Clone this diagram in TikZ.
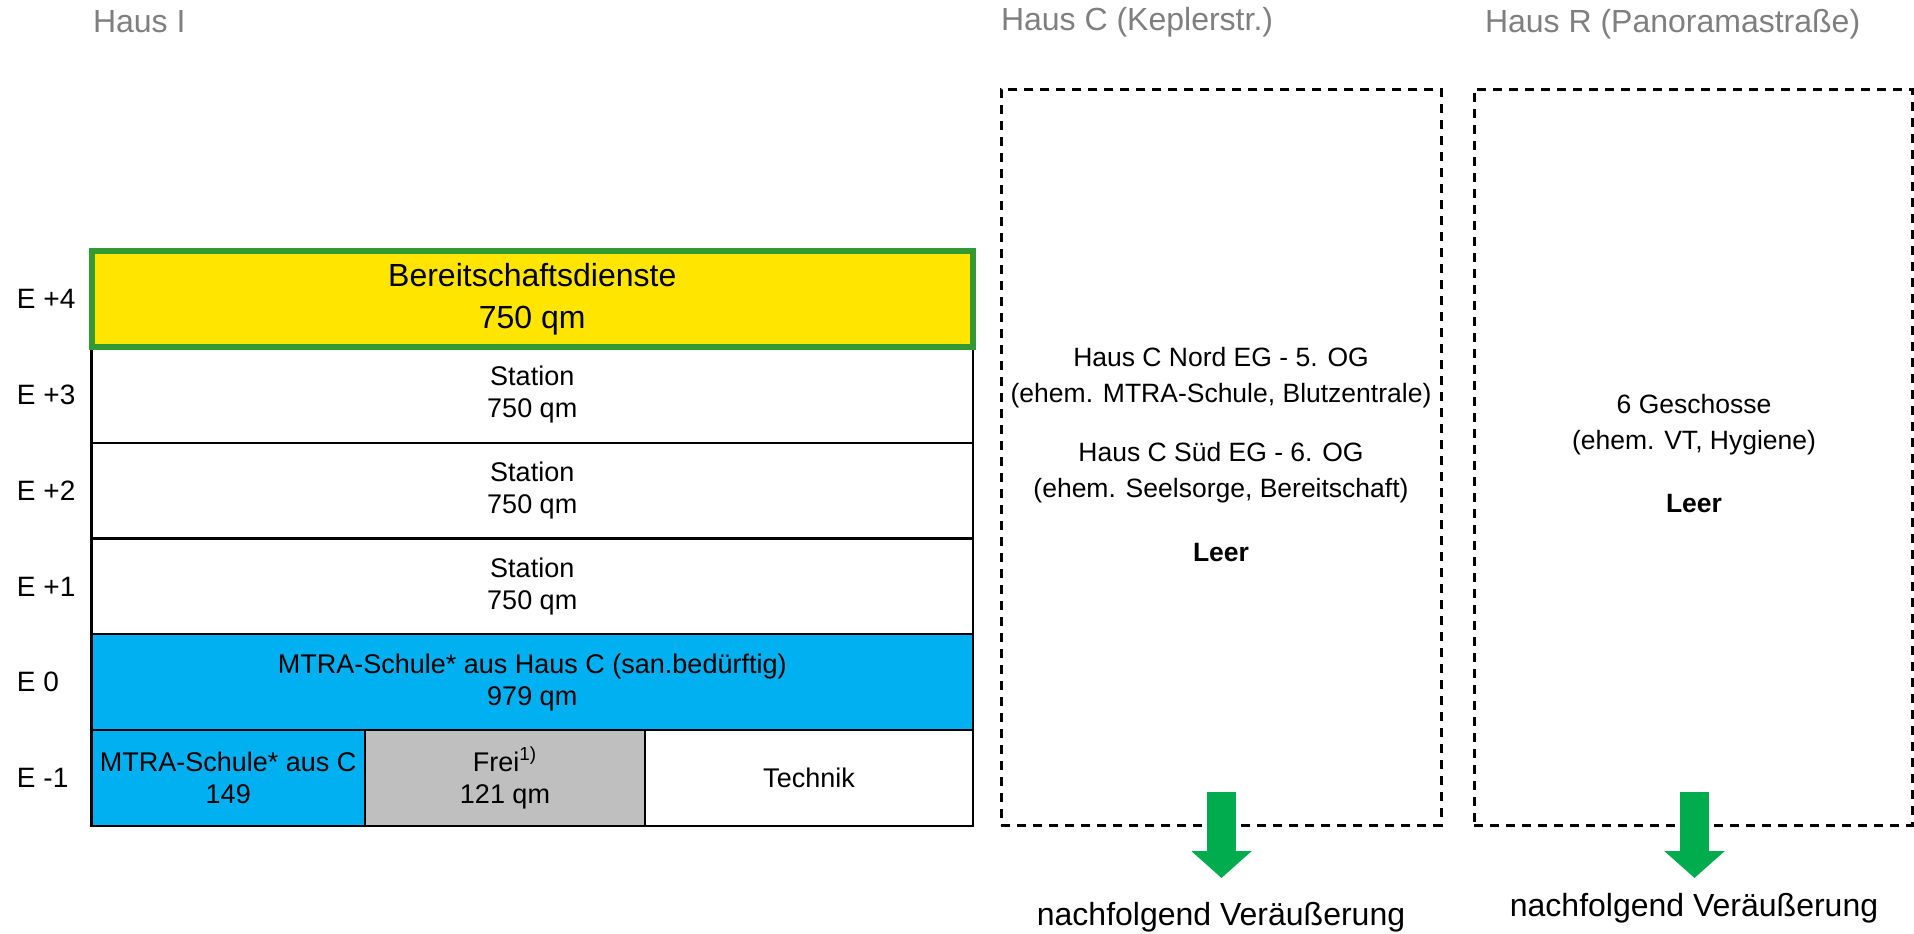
\documentclass[tikz,border=0pt]{standalone}
\usepackage{fontspec}
\setmainfont{Liberation Sans}
\usepackage{xcolor}
\usepackage{tikz}
\usetikzlibrary{arrows.meta}

\definecolor{gelb}{HTML}{FFE500}
\definecolor{rahmengruen}{HTML}{339933}
\definecolor{blau}{HTML}{00B0F0}
\definecolor{grau}{HTML}{BFBFBF}
\definecolor{titelgrau}{HTML}{7F7F7F}
\definecolor{pfeilgruen}{HTML}{00AC4E}

\begin{document}
\begin{tikzpicture}[x=0.5pt, y=-0.5pt,
	every node/.style={inner sep=0pt, outer sep=0pt, align=center},
	floor/.style={draw=black, line width=1.1pt, fill=white, minimum width=440.75pt, minimum height=47.9pt, font=\fontsize{13.5}{16}\selectfont},
	etage/.style={anchor=west, font=\fontsize{14}{16}\selectfont},
	titel/.style={anchor=west, text=titelgrau, font=\fontsize{16}{19}\selectfont},
	haus/.style={draw=black, line width=1.5pt, dash pattern=on 4.7pt off 3.3pt, minimum width=220pt, minimum height=368pt},
	info/.style={font=\fontsize{13.25}{18}\selectfont},
	verkauf/.style={font=\fontsize{16}{19}\selectfont},
	pfeil/.style={pfeilgruen, line width=14.5pt, -{Triangle[width=29.5pt, length=13.5pt]}}]
	\useasboundingbox (0,0) rectangle (1914,933);
	% Haus I
	\node[titel](tI) at (93,22){Haus I};
	\node[floor, minimum width=136.75pt, fill=blau](em1a) at (228.25,778.1){MTRA-Schule* aus C\\149};
	\node[floor, minimum width=140pt, fill=grau](em1b) at (505,778.1){Frei\textsuperscript{1)}\\121 qm};
	\node[floor, minimum width=164pt](em1c) at (809,778.1){Technik};
	\node[floor, fill=blau](e0) at (532.25,682.25){MTRA-Schule* aus Haus C (san.bedürftig)\\979 qm};
	\node[floor](e1) at (532.25,586.4){Station\\750 qm};
	\node[floor](e2) at (532.25,490.6){Station\\750 qm};
	\node[floor](e3) at (532.25,394.75){Station\\750 qm};
	\node[floor, fill=gelb, draw=rahmengruen, line width=3pt, font=\fontsize{16}{21}\selectfont](e4) at (532.25,298.9){Bereitschaftsdienste\\750 qm};
	\node[etage](le4) at (17,298.9){E +4};
	\node[etage](le3) at (17,394.75){E +3};
	\node[etage](le2) at (17,490.6){E +2};
	\node[etage](le1) at (17,586.4){E +1};
	\node[etage](le0) at (17,682.25){E 0};
	\node[etage](lem1) at (17,778.1){E -1};
	% Haus C
	\node[titel](tC) at (1001,22){Haus C (Keplerstr.)};
	\node[haus](hausC) at (1221,457){};
	\node[info](nordC) at (1221,378){Haus C Nord EG - 5. OG\\(ehem. MTRA-Schule, Blutzentrale)};
	\node[info](suedC) at (1221,472.5){Haus C Süd EG - 6. OG\\(ehem. Seelsorge, Bereitschaft)};
	\node[info](leerC) at (1221,552){\textbf{Leer}};
	\coordinate(startC) at (1221.5,792);
	\coordinate(spitzeC) at (1221.5,878);
	\draw[pfeil] (startC) -- (spitzeC);
	\node[verkauf](vkC) at (1221,917){nachfolgend Veräußerung};
	% Haus R
	\node[titel](tR) at (1485,24){Haus R (Panoramastraße)};
	\node[haus, minimum width=219pt](hausR) at (1693,457){};
	\node[info](geschR) at (1694,424.5){6 Geschosse\\(ehem. VT, Hygiene)};
	\node[info](leerR) at (1694,503){\textbf{Leer}};
	\coordinate(startR) at (1694.5,792);
	\coordinate(spitzeR) at (1694.5,878);
	\draw[pfeil] (startR) -- (spitzeR);
	\node[verkauf](vkR) at (1694,908){nachfolgend Veräußerung};
\end{tikzpicture}
\end{document}
